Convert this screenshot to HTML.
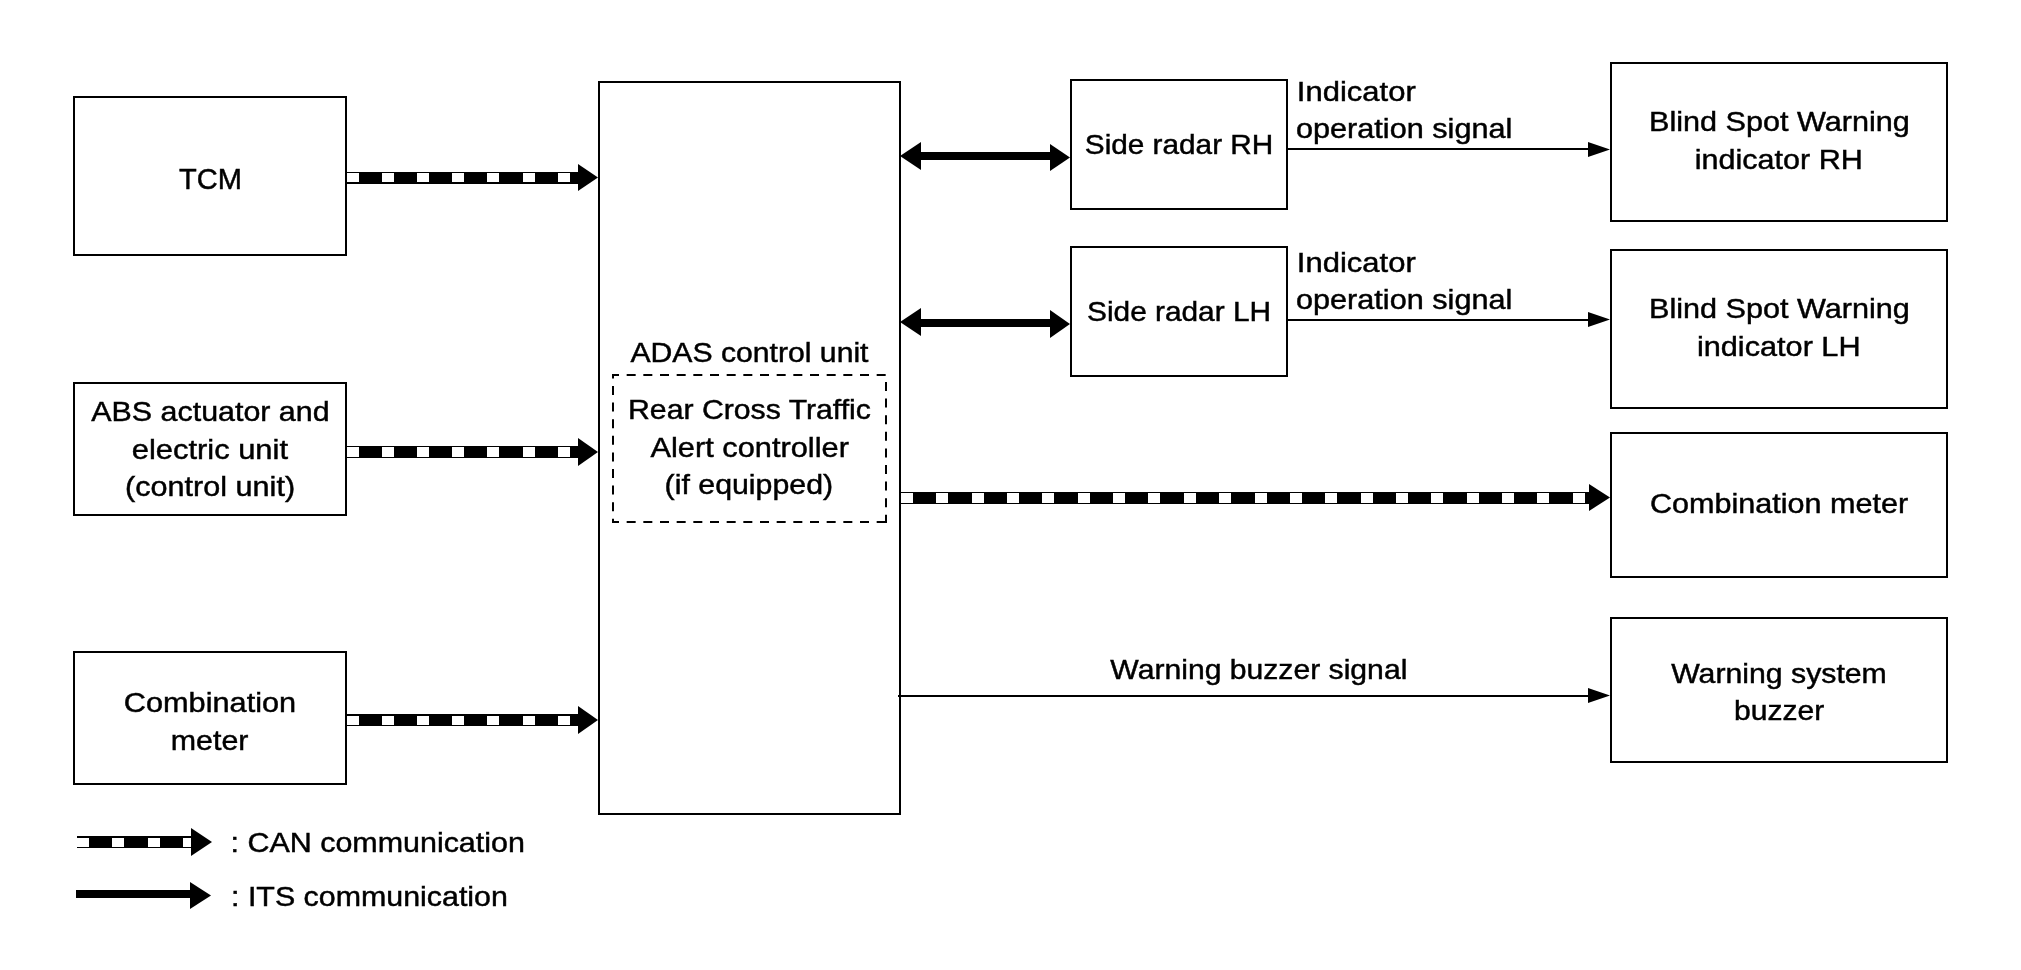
<!DOCTYPE html>
<html><head><meta charset="utf-8"><style>
html,body{margin:0;padding:0;background:#fff;width:2021px;height:970px;overflow:hidden}
svg{display:block}
text{font-family:"Liberation Sans",sans-serif;font-size:30.5px;fill:#000;stroke:#000;stroke-width:0.5px}
svg{will-change:transform}
</style></head><body>
<svg width="2021" height="970" viewBox="0 0 2021 970">
<rect x="0" y="0" width="2021" height="970" fill="#fff"/>
<rect x="346" y="172" width="232" height="12" fill="#000"/>
<rect x="347" y="173" width="12" height="9" fill="#fff"/>
<rect x="382" y="173" width="12" height="9" fill="#fff"/>
<rect x="417" y="173" width="12" height="9" fill="#fff"/>
<rect x="452" y="173" width="12" height="9" fill="#fff"/>
<rect x="487" y="173" width="12" height="9" fill="#fff"/>
<rect x="523" y="173" width="12" height="9" fill="#fff"/>
<rect x="558" y="173" width="12" height="9" fill="#fff"/>
<polygon points="578,164 598,177.5 578,191" fill="#000"/>
<rect x="346" y="446" width="232" height="12" fill="#000"/>
<rect x="347" y="447" width="12" height="10" fill="#fff"/>
<rect x="382" y="447" width="12" height="10" fill="#fff"/>
<rect x="417" y="447" width="12" height="10" fill="#fff"/>
<rect x="452" y="447" width="12" height="10" fill="#fff"/>
<rect x="487" y="447" width="12" height="10" fill="#fff"/>
<rect x="523" y="447" width="12" height="10" fill="#fff"/>
<rect x="558" y="447" width="12" height="10" fill="#fff"/>
<polygon points="578,438 598,452.0 578,466" fill="#000"/>
<rect x="346" y="714" width="232" height="12" fill="#000"/>
<rect x="347" y="716" width="12" height="9" fill="#fff"/>
<rect x="382" y="716" width="12" height="9" fill="#fff"/>
<rect x="417" y="716" width="12" height="9" fill="#fff"/>
<rect x="452" y="716" width="12" height="9" fill="#fff"/>
<rect x="487" y="716" width="12" height="9" fill="#fff"/>
<rect x="523" y="716" width="12" height="9" fill="#fff"/>
<rect x="558" y="716" width="12" height="9" fill="#fff"/>
<polygon points="578,706 598,720.0 578,734" fill="#000"/>
<rect x="901" y="492" width="688" height="12" fill="#000"/>
<rect x="901" y="493" width="12" height="10" fill="#fff"/>
<rect x="936" y="493" width="12" height="10" fill="#fff"/>
<rect x="972" y="493" width="12" height="10" fill="#fff"/>
<rect x="1007" y="493" width="12" height="10" fill="#fff"/>
<rect x="1042" y="493" width="12" height="10" fill="#fff"/>
<rect x="1078" y="493" width="12" height="10" fill="#fff"/>
<rect x="1113" y="493" width="12" height="10" fill="#fff"/>
<rect x="1148" y="493" width="12" height="10" fill="#fff"/>
<rect x="1184" y="493" width="12" height="10" fill="#fff"/>
<rect x="1219" y="493" width="12" height="10" fill="#fff"/>
<rect x="1255" y="493" width="12" height="10" fill="#fff"/>
<rect x="1290" y="493" width="12" height="10" fill="#fff"/>
<rect x="1325" y="493" width="12" height="10" fill="#fff"/>
<rect x="1361" y="493" width="12" height="10" fill="#fff"/>
<rect x="1396" y="493" width="12" height="10" fill="#fff"/>
<rect x="1431" y="493" width="12" height="10" fill="#fff"/>
<rect x="1467" y="493" width="12" height="10" fill="#fff"/>
<rect x="1502" y="493" width="12" height="10" fill="#fff"/>
<rect x="1537" y="493" width="12" height="10" fill="#fff"/>
<rect x="1573" y="493" width="12" height="10" fill="#fff"/>
<polygon points="1589,484 1610,497.5 1589,511" fill="#000"/>
<rect x="77" y="836" width="114" height="12" fill="#000"/>
<rect x="77" y="838" width="12" height="9" fill="#fff"/>
<rect x="112" y="838" width="12" height="9" fill="#fff"/>
<rect x="148" y="838" width="12" height="9" fill="#fff"/>
<rect x="183" y="838" width="8" height="9" fill="#fff"/>
<polygon points="191,828 212,842.0 191,856" fill="#000"/>
<rect x="921" y="152" width="129" height="8" fill="#000"/>
<polygon points="921,142 900,156.0 921,170" fill="#000"/>
<polygon points="1050,144 1070,157.5 1050,171" fill="#000"/>
<rect x="921" y="319" width="129" height="8" fill="#000"/>
<polygon points="921,308 900,322.0 921,336" fill="#000"/>
<polygon points="1050,310 1070,324.0 1050,338" fill="#000"/>
<rect x="76" y="890" width="114" height="8" fill="#000"/>
<polygon points="190,882 211,895.5 190,909" fill="#000"/>
<rect x="1288" y="148" width="300" height="2" fill="#000"/>
<polygon points="1588,142 1610,149.5 1588,157" fill="#000"/>
<rect x="1288" y="319" width="300" height="2" fill="#000"/>
<polygon points="1588,312 1610,319.5 1588,327" fill="#000"/>
<rect x="898" y="695" width="690" height="2" fill="#000"/>
<polygon points="1588,688 1610,695.5 1588,703" fill="#000"/>
<rect x="74" y="97" width="272" height="158" fill="none" stroke="#000" stroke-width="2"/>
<rect x="74" y="383" width="272" height="132" fill="none" stroke="#000" stroke-width="2"/>
<rect x="74" y="652" width="272" height="132" fill="none" stroke="#000" stroke-width="2"/>
<rect x="599" y="82" width="301" height="732" fill="none" stroke="#000" stroke-width="2"/>
<line x1="612" y1="375" x2="887" y2="375" stroke="#000" stroke-width="2" stroke-dasharray="9 7.667" stroke-dashoffset="2"/>
<line x1="612" y1="522" x2="887" y2="522" stroke="#000" stroke-width="2" stroke-dasharray="9 7.667" stroke-dashoffset="2"/>
<line x1="613" y1="374" x2="613" y2="523" stroke="#000" stroke-width="2" stroke-dasharray="9 7.6" stroke-dashoffset="4.6"/>
<line x1="886" y1="382" x2="886" y2="523" stroke="#000" stroke-width="2" stroke-dasharray="9 7.6" stroke-dashoffset="0"/>
<rect x="1071" y="80" width="216" height="129" fill="none" stroke="#000" stroke-width="2"/>
<rect x="1071" y="247" width="216" height="129" fill="none" stroke="#000" stroke-width="2"/>
<rect x="1611" y="63" width="336" height="158" fill="none" stroke="#000" stroke-width="2"/>
<rect x="1611" y="250" width="336" height="158" fill="none" stroke="#000" stroke-width="2"/>
<rect x="1611" y="433" width="336" height="144" fill="none" stroke="#000" stroke-width="2"/>
<rect x="1611" y="618" width="336" height="144" fill="none" stroke="#000" stroke-width="2"/>
<text transform="translate(179.0 189) scale(0.9531 0.99)">TCM</text>
<text transform="translate(91.3 421) scale(0.997 0.92)">ABS actuator and</text>
<text transform="translate(131.69 459) scale(1.0137 0.92)">electric unit</text>
<text transform="translate(124.99 495.8) scale(1.0036 0.92)">(control unit)</text>
<text transform="translate(123.79 712.2) scale(1.0071 0.92)">Combination</text>
<text transform="translate(170.81 749.8) scale(0.9961 0.92)">meter</text>
<text transform="translate(630.4 362) scale(0.9896 0.92)">ADAS control unit</text>
<text transform="translate(628.02 418.7) scale(0.9909 0.92)">Rear Cross Traffic</text>
<text transform="translate(650.5 456.7) scale(1.0097 0.92)">Alert controller</text>
<text transform="translate(664.61 494) scale(0.9946 0.92)">(if equipped)</text>
<text transform="translate(1084.82 153.9) scale(0.9758 0.92)">Side radar RH</text>
<text transform="translate(1087.02 321.1) scale(0.9784 0.92)">Side radar LH</text>
<text transform="translate(1296.87 100.9) scale(1.0165 0.92)">Indicator</text>
<text transform="translate(1296.0 138.2) scale(1.0047 0.92)">operation signal</text>
<text transform="translate(1296.87 272.1) scale(1.0165 0.92)">Indicator</text>
<text transform="translate(1296.0 309.3) scale(1.0047 0.92)">operation signal</text>
<text transform="translate(1648.99 130.7) scale(1.0039 0.92)">Blind Spot Warning</text>
<text transform="translate(1694.8 168.7) scale(1.0012 0.92)">indicator RH</text>
<text transform="translate(1648.99 317.7) scale(1.0039 0.92)">Blind Spot Warning</text>
<text transform="translate(1696.89 355.9) scale(1.0063 0.92)">indicator LH</text>
<text transform="translate(1650.0 512.9) scale(1.0016 0.92)">Combination meter</text>
<text transform="translate(1671.2 682.8) scale(0.9917 0.92)">Warning system</text>
<text transform="translate(1734.03 720.1) scale(0.9854 0.92)">buzzer</text>
<text transform="translate(1110.3 679) scale(0.9886 0.92)">Warning buzzer signal</text>
<text transform="translate(230.6 852.2) scale(0.9979 0.92)">: CAN communication</text>
<text transform="translate(231.01 905.9) scale(0.9964 0.92)">: ITS communication</text>
</svg>
</body></html>
